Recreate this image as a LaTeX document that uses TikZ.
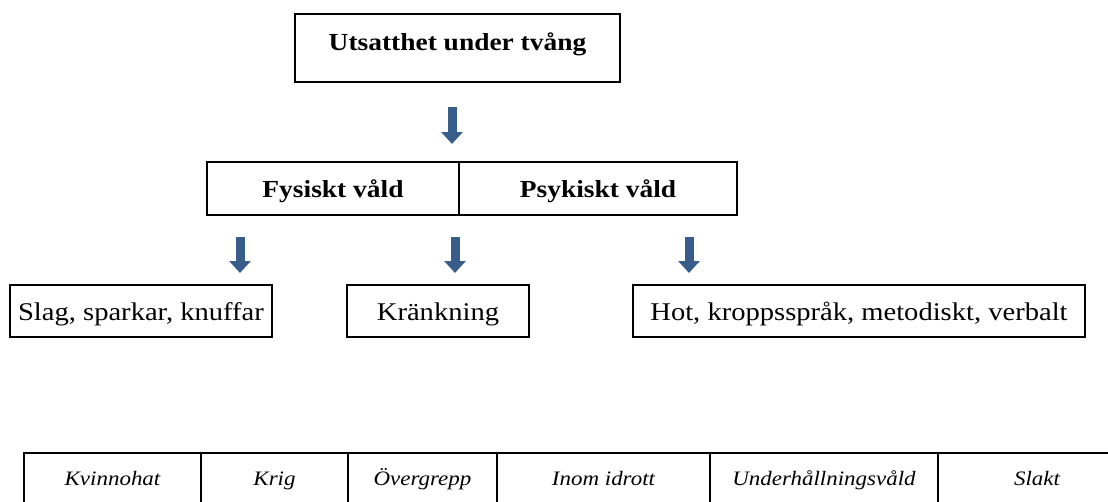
\documentclass[tikz,border=0pt]{standalone}
\usepackage{fontspec}
\setmainfont{Liberation Serif}[FakeStretch=1.12]
\usetikzlibrary{arrows.meta}
\definecolor{arrowblue}{RGB}{56,93,138}
\tikzset{
  box/.style={draw,line width=1.4pt,inner sep=0pt,text height=20pt,text depth=2pt,
    font=\fontsize{25.5}{30}\selectfont},
  headbox/.style={box,font=\fontsize{24.5}{30}\selectfont\bfseries},
  cell/.style={draw,line width=1.7pt,inner sep=0pt,minimum height=60pt,
    text height=14pt,text depth=10pt,font=\fontsize{20.5}{24}\selectfont\itshape},
  blockarrow/.style={draw=arrowblue,line width=9pt,-{Triangle[width=21pt,length=12pt]}}
}

\begin{document}
\begin{tikzpicture}[x=1pt,y=-1pt]
        \useasboundingbox (0,0) rectangle (1108,501);
        \clip (0,0) rectangle (1108,501);

        % COORDINATES
        \coordinate (a1s) at (452,107);
        \coordinate (a1e) at (452,144);
        \coordinate (a2s) at (240,237);
        \coordinate (a2e) at (240,273);
        \coordinate (a3s) at (455,237);
        \coordinate (a3e) at (455,273);
        \coordinate (a4s) at (689,237);
        \coordinate (a4e) at (689,273);

        % BOXES
        \node[headbox,minimum width=325pt,minimum height=68pt,text height=16pt,text depth=12pt]
          (top) at (457.5,48) {Utsatthet under tvång};
        \node[headbox,minimum width=252pt,minimum height=53pt] (fys) at (333,188.5) {Fysiskt våld};
        \node[headbox,minimum width=278pt,minimum height=53pt] (psy) at (598,188.5) {Psykiskt våld};
        \node[box,minimum width=262pt,minimum height=52pt] (slag) at (141,311) {Slag, sparkar, knuffar};
        \node[box,minimum width=182pt,minimum height=52pt] (krank) at (438,311) {Kränkning};
        \node[box,minimum width=452pt,minimum height=52pt] (hot) at (859,311) {Hot, kroppsspråk, metodiskt, verbalt};

        % ARROWS
        \draw[blockarrow] (a1s) -- (a1e);
        \draw[blockarrow] (a2s) -- (a2e);
        \draw[blockarrow] (a3s) -- (a3e);
        \draw[blockarrow] (a4s) -- (a4e);

        % TABLE
        \node[cell,minimum width=177pt] (kvinno) at (112.5,483) {Kvinnohat};
        \node[cell,minimum width=147pt] (krig) at (274.5,483) {Krig};
        \node[cell,minimum width=149pt] (overgr) at (422.5,483) {Övergrepp};
        \node[cell,minimum width=213pt] (idrott) at (603.5,483) {Inom idrott};
        \node[cell,minimum width=228pt,line width=2.2pt] (underh) at (824,483) {Underhållningsvåld};
        \node[cell,minimum width=198pt] (slakt) at (1037,483) {Slakt};

\end{tikzpicture}
\end{document}
